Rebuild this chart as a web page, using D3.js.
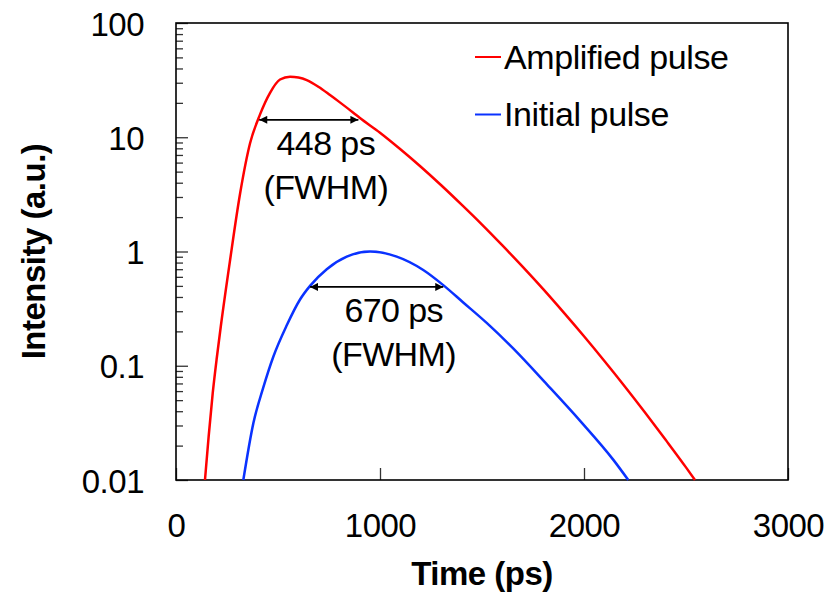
<!DOCTYPE html>
<html>
<head>
<meta charset="utf-8">
<script src="https://cdn.jsdelivr.net/npm/d3@7"></script>
<style>
  body { margin: 0; background: #fff; }
  text { font-family: "Liberation Sans", Arial, sans-serif; fill: #000; }
</style>
</head>
<body>
<script>
// data (time in ps, intensity in a.u.)
var ampTime = [142, 160, 180, 200, 220, 265, 314, 363, 412, 461, 510, 559, 600, 641, 700, 755, 800, 869, 900, 1000,
               1100, 1200, 1300, 1400, 1500, 1600, 1700, 1800, 1900, 2000, 2100, 2200, 2300, 2400, 2500, 2544];
var ampValue = [0.01, 0.024, 0.0575, 0.1175, 0.224, 0.839, 3.2, 8.85, 15.85, 24.5, 32.0, 33.9, 33.3, 31.6, 27.5, 23.4, 20.4, 16.4, 14.8, 10.96,
                7.85, 5.52, 3.80, 2.57, 1.72, 1.13, 0.733, 0.468, 0.293, 0.181, 0.110, 0.0659, 0.0388, 0.0225, 0.0129, 0.01];
var iniTime = [330, 379, 428, 477, 543, 608, 657, 739, 837, 951, 1082, 1212, 1310, 1408, 1523, 1654, 1817, 1980, 2144, 2217];
var iniValue = [0.01, 0.0313, 0.0646, 0.120, 0.226, 0.380, 0.50, 0.70, 0.90, 1.0, 0.902, 0.689, 0.508, 0.358, 0.237, 0.141, 0.069, 0.0331, 0.0150, 0.01];

var seriesNames = ["Amplified pulse", "Initial pulse"];
var seriesColors = ["#ff0000", "#0a32ff"];

var xTicks = [0, 1000, 2000, 3000];
var yTicks = [0.01, 0.1, 1, 10, 100];
var yTickLabels = ["0.01", "0.1", "1", "10", "100"];

// FWHM markers: [start, end, level, label]
var fwhmAmp = [408, 894, 14.2, "448 ps"];
var fwhmIni = [657, 1310, 0.49, "670 ps"];

var margin = {top: 23, right: 42, bottom: 113, left: 176},
    width = 830 - margin.left - margin.right,
    height = 593 - margin.top - margin.bottom;

var x = d3.scaleLinear().domain([0, 3000]).range([0, width]);
var y = d3.scaleLog().domain([0.01, 100]).range([height, 0]);

var svg = d3.select("body").append("svg")
    .attr("width", width + margin.left + margin.right)
    .attr("height", height + margin.top + margin.bottom)
  .append("g")
    .attr("transform", "translate(" + margin.left + "," + margin.top + ")");

// minor ticks on y
var minor = [];
yTicks.slice(0, -1).forEach(function(d) {
  for (var k = 2; k <= 9; k++) minor.push(d * k);
});

svg.append("g")
    .attr("class", "yminor")
    .call(d3.axisLeft(y).tickValues(minor).tickSizeInner(-7).tickSizeOuter(0).tickFormat(""));

svg.append("g")
    .attr("class", "axisy")
    .call(d3.axisLeft(y).tickValues(yTicks).tickSizeInner(-12).tickSizeOuter(0).tickPadding(32)
      .tickFormat(function(d, i) { return yTickLabels[i]; }));

svg.append("g")
    .attr("class", "axisx")
    .attr("transform", "translate(0," + height + ")")
    .call(d3.axisBottom(x).tickValues(xTicks).tickSizeInner(-12).tickSizeOuter(0).tickPadding(34)
      .tickFormat(d3.format("d")));

svg.selectAll(".tick line").attr("stroke", "#333").attr("stroke-width", 1.3);
svg.selectAll(".domain").remove();
svg.selectAll(".axisy text, .axisx text")
    .style("font-size", "33px")
    .style("letter-spacing", "-0.5px")
    .style("font-family", "'Liberation Sans', Arial, sans-serif");
svg.selectAll(".axisy text").attr("dy", "0.37em");

// frame
svg.append("rect")
    .attr("width", width)
    .attr("height", height)
    .attr("fill", "none")
    .attr("stroke", "#000")
    .attr("stroke-width", 1.6);

// curves
var line = d3.line()
    .x(function(d) { return x(d[0]); })
    .y(function(d) { return y(d[1]); })
    .curve(d3.curveMonotoneX);

var series = [d3.zip(ampTime, ampValue), d3.zip(iniTime, iniValue)];

svg.selectAll(".curve")
    .data(series)
    .enter().append("path")
    .attr("class", "curve")
    .attr("d", line)
    .attr("fill", "none")
    .attr("stroke", function(d, i) { return seriesColors[i]; })
    .attr("stroke-width", 2.5);

// arrows
svg.append("defs").append("marker")
    .attr("id", "head")
    .attr("viewBox", "0 0 10 10")
    .attr("refX", 10).attr("refY", 5)
    .attr("markerWidth", 10).attr("markerHeight", 8)
    .attr("markerUnits", "userSpaceOnUse")
    .attr("orient", "auto-start-reverse")
  .append("path")
    .attr("d", "M0,0L10,5L0,10z")
    .attr("fill", "#000");

[fwhmAmp, fwhmIni].forEach(function(f) {
  var x0 = x(f[0]), x1 = x(f[1]), yy = y(f[2]);
  svg.append("line")
      .attr("x1", x0).attr("x2", x1)
      .attr("y1", yy).attr("y2", yy)
      .attr("stroke", "#000")
      .attr("stroke-width", 1.6)
      .attr("marker-start", "url(#head)")
      .attr("marker-end", "url(#head)");
  var cx = (x0 + x1) / 2 + 17;
  svg.append("text")
      .attr("x", cx).attr("y", yy + 35.5)
      .attr("text-anchor", "middle")
      .style("font-size", "34px")
      .style("letter-spacing", "-0.6px")
      .text(f[3]);
  svg.append("text")
      .attr("x", cx).attr("y", yy + 79)
      .attr("text-anchor", "middle")
      .style("font-size", "34px")
      .style("letter-spacing", "-0.6px")
      .text("(FWHM)");
});

// legend
var legend = svg.selectAll(".legend")
    .data(seriesNames)
    .enter().append("g")
    .attr("class", "legend")
    .attr("transform", function(d, i) { return "translate(299," + (34 + i * 57.5) + ")"; });

legend.append("line")
    .attr("x1", 0).attr("x2", 26)
    .attr("stroke", function(d, i) { return seriesColors[i]; })
    .attr("stroke-width", 2);

legend.append("text")
    .attr("x", 29).attr("y", 11.5)
    .style("font-size", "34px")
    .style("letter-spacing", "-0.4px")
    .text(function(d) { return d; });

// axis titles
svg.append("text")
    .attr("x", width / 2)
    .attr("y", height + 105)
    .attr("text-anchor", "middle")
    .style("font-size", "33px")
    .style("font-weight", "bold")
    .style("letter-spacing", "-0.5px")
    .text("Time (ps)");

svg.append("text")
    .attr("transform", "translate(" + (45 - margin.left) + "," + (height / 2) + ") rotate(-90)")
    .attr("text-anchor", "middle")
    .style("font-size", "33px")
    .style("font-weight", "bold")
    .style("letter-spacing", "-0.5px")
    .text("Intensity (a.u.)");
</script>
</body>
</html>
